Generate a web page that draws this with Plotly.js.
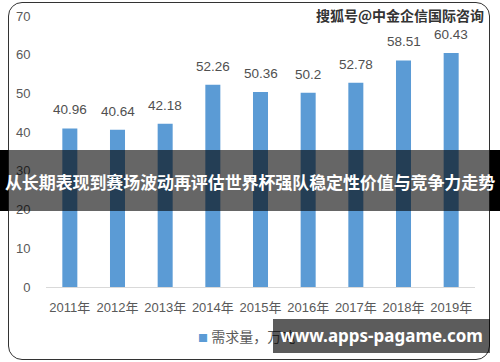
<!DOCTYPE html>
<html>
<head>
<meta charset="utf-8">
<script src="https://cdn.plot.ly/plotly-3.0.1.min.js"></script>
<style>
  html, body { margin: 0; padding: 0; background: #fff; }
  #wrap { position: relative; width: 500px; height: 362px; overflow: hidden; background: #fff; }
  #chart { position: absolute; left: 0; top: 0; width: 500px; height: 362px; }
  .ov { position: absolute; pointer-events: none; }
  #frame { left: 8px; top: 2px; width: 480px; height: 356px; border: 1.5px solid #333; border-radius: 14px; }
  #band { left: 0; top: 150px; width: 500px; height: 61px; background: rgba(0,0,0,0.6); }
  #bandL { left: 0; top: 150px; width: 8px; height: 61px; background: #000; }
  #bandR { left: 490px; top: 150px; width: 10px; height: 61px; background: #000; }
  #bandText { left: 0; top: 150px; width: 500px; height: 61px; line-height: 63px; text-align: center;
    color: #fff; font-family: "Noto Sans CJK SC", sans-serif; font-weight: bold; font-size: 17px; white-space: nowrap; letter-spacing: -0.1px; }
  #wmTop { left: 316px; top: 5px; width: 174px; text-align: left; font-family: "Noto Sans CJK SC", sans-serif;
    font-weight: bold; font-size: 14px; color: #333; white-space: nowrap;
    text-shadow: 1px 0 #fff, -1px 0 #fff, 0 1px #fff, 0 -1px #fff; }
  #wmBot { left: 273px; top: 319px; width: 217px; height: 34px; background: rgba(0,0,0,0.64); }
  #wmBotText { left: 273px; top: 319px; width: 217px; height: 34px; line-height: 34px; text-align: center;
    color: #fff; font-family: "Noto Sans", sans-serif; font-weight: bold; font-size: 17px; white-space: nowrap; }
</style>
</head>
<body>
<div id="wrap">
  <div id="chart"></div>
  <div id="frame" class="ov"></div>
  <div id="band" class="ov"></div>
  <div id="bandL" class="ov"></div>
  <div id="bandR" class="ov"></div>
  <div id="bandText" class="ov">从长期表现到赛场波动再评估世界杯强队稳定性价值与竞争力走势</div>
  <div id="wmTop" class="ov">搜狐号@中金企信国际咨询</div>
  <div id="wmBot" class="ov"></div>
  <div id="wmBotText" class="ov">www.apps-pagame.com</div>
</div>
<script>
const years = ["2011年", "2012年", "2013年", "2014年", "2015年", "2016年", "2017年", "2018年", "2019年"];
const demand = [40.96, 40.64, 42.18, 52.26, 50.36, 50.2, 52.78, 58.51, 60.43];
const labels = ["40.96", "40.64", "42.18", "52.26", "50.36", "50.2", "52.78", "58.51", "60.43"];
const yTicks = [0, 10, 20, 30, 40, 50, 60, 70];
const seriesName = "需求量，万吨";

const fontFam = '"Liberation Sans", "Noto Sans CJK SC", sans-serif';
const grey = '#595959';
const barColor = '#5b9bd5';

const data = [{
  type: 'bar',
  x: years,
  y: demand,
  name: seriesName,
  marker: { color: barColor },
  hoverinfo: 'none',
  showlegend: false
}];

const annotations = years.map((c, i) => ({
  x: c, y: demand[i], xref: 'x', yref: 'y',
  text: labels[i], showarrow: false,
  yanchor: 'bottom', yshift: 9,
  font: { family: fontFam, size: 13.5, color: '#505050' }
}));

annotations.push({
  xref: 'paper', yref: 'paper', x: 0.35, y: -0.182, xanchor: 'left', yanchor: 'middle',
  showarrow: false,
  text: '<span style="color:' + barColor + ';font-size:10px">■</span> ' + seriesName,
  font: { family: '"Noto Sans CJK SC", sans-serif', size: 14, color: grey }
});

const layout = {
  width: 500, height: 362,
  margin: { l: 46, r: 25, t: 16, b: 75 },
  paper_bgcolor: '#fff', plot_bgcolor: '#fff',
  bargap: 0.685,
  showlegend: false,
  xaxis: {
    type: 'category',
    showline: true, linecolor: '#d9d9d9', linewidth: 1,
    showgrid: false, zeroline: false,
    ticks: 'outside', ticklen: 8, tickcolor: 'rgba(0,0,0,0)',
    tickfont: { family: fontFam, size: 13, color: grey },
    fixedrange: true
  },
  yaxis: {
    range: [0, 70],
    tickvals: yTicks,
    showline: false, showgrid: false, zeroline: false,
    ticks: 'outside', ticklen: 12, tickcolor: 'rgba(0,0,0,0)',
    tickfont: { family: fontFam, size: 13, color: grey },
    fixedrange: true
  },
  annotations: annotations
};

Plotly.newPlot('chart', data, layout, { displayModeBar: false, staticPlot: true });
</script>
</body>
</html>
